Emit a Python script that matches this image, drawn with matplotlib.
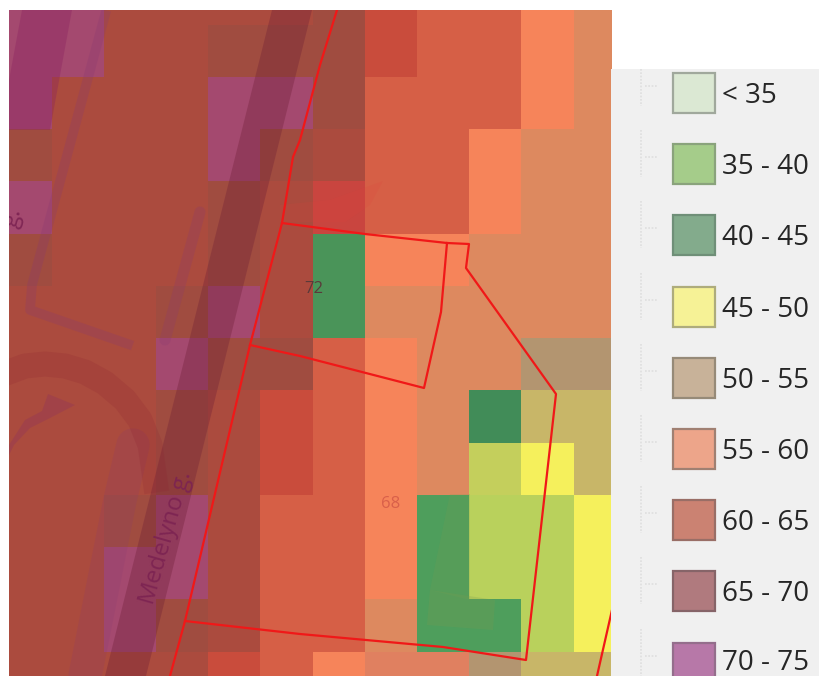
import numpy as np
import matplotlib
matplotlib.use("Agg")
import matplotlib.pyplot as plt
from matplotlib.colors import ListedColormap
from matplotlib.patches import Polygon, Rectangle

plt.rcParams["font.family"] = ["Open Sans", "DejaVu Sans"]

# Noise grid, one letter per cell
grid_rows = [
    "ppaaaabQrrot",
    "ppaabbbQrrot",
    "paaappbrrrot",
    "baaapbarrott",
    "paaabadrrott",
    "baaabahoottt",
    "aaabpahttttt",
    "aaapbbrottkk",
    "aaabaQrotGll",
    "aaabaQrotmyl",
    "aabparrogccy",
    "aappa" + "rrogccy",
    "aapba" + "rrtggcy",
    "aaaaQroeekll",
]
cell_colors = {
    "a": "#ab4b3e",
    "b": "#a04c40",
    "p": "#a4496f",
    "r": "#d65f46",
    "Q": "#c94c3c",
    "d": "#c9453f",
    "o": "#f6845a",
    "t": "#dd895f",
    "e": "#e08060",
    "k": "#b39570",
    "l": "#c8b668",
    "g": "#4e9e5c",
    "h": "#4a9459",
    "G": "#418c58",
    "c": "#b9d15c",
    "m": "#c4cf5c",
    "y": "#f5f05c",
}

# Legend
legend_labels = ["< 35", "35 - 40", "40 - 45", "45 - 50", "50 - 55", "55 - 60", "60 - 65", "65 - 70", "70 - 75"]
legend_fill = ["#dbe8d3", "#a5cc8a", "#83ab8c", "#f6f296", "#c8b299", "#eda58a", "#cb8272", "#b07a7e", "#b778a8"]
legend_edge = ["#a0a89c", "#8aa37c", "#6f8f78", "#aeac7c", "#968a78", "#a08072", "#996e66", "#866468", "#946e8c"]

# Map features, in picture coordinates
main_road = [(272, 10), (312, 10), (146, 676), (105, 676)]
left_road = [(22, 10), (72, 10), (50, 130), (9, 130), (9, 80)]
side_road_x = [105, 32, 30, 128]
side_road_y = [15, 285, 310, 344]
lane_x = [200, 165]
lane_y = [212, 340]
lower_lane_x = [133, 120, 85]
lower_lane_y = [445, 500, 676]
bend_x = [9, 25, 45, 65, 85, 105, 125, 140, 150, 155]
bend_y = [372, 366, 364, 366, 372, 383, 400, 420, 445, 480]
arrow_road = [(9, 445), (25, 420), (42, 411), (48, 394), (75, 405), (50, 418), (30, 428), (14, 445), (9, 455)]
roof_red = [(280, 205), (330, 200), (383, 181), (370, 205), (345, 222), (280, 222)]
roof_green_a = [(450, 494), (470, 494), (470, 600), (430, 590)]
roof_green_b = [(430, 590), (495, 600), (493, 630), (427, 625)]

boundary_x = [337, 320, 300, 293, 282, 250, 185, 170]
boundary_y = [10, 65, 140, 157, 223, 345, 621, 676]
parcel_x = [282, 365, 447, 469, 466, 556, 526, 443, 300, 185]
parcel_y = [223, 234, 243, 244, 268, 394, 660, 647, 634, 621]
inner_x = [447, 441, 424, 300, 250]
inner_y = [243, 312, 388, 356, 345]
corner_x = [612, 597]
corner_y = [610, 676]

fig = plt.figure(figsize=(8.19, 6.76), dpi=100, facecolor="white")

# Map
ax = fig.add_axes([9 / 819, 0, 603 / 819, 666 / 676])
letters = list(cell_colors)
values = np.array([[letters.index(c) for c in row] for row in grid_rows])
x_edges = np.clip(51.5 + 52.2 * np.arange(-1, 12), 9, 612)
y_edges = np.clip(24.5 + 52.25 * np.arange(-1, 14), 10, 676)
ax.pcolormesh(x_edges, y_edges, values, cmap=ListedColormap(list(cell_colors.values())),
              vmin=-0.5, vmax=len(letters) - 0.5)
ax.set_xlim(9, 612)
ax.set_ylim(676, 10)
ax.axis("off")

# Streets show through the noise layer
road = "#6f1f36"
ax.add_patch(Polygon(main_road, closed=True, fc=road, ec="none", alpha=0.35))
ax.add_patch(Polygon(left_road, closed=True, fc="#8a2060", ec="none", alpha=0.35))
ax.add_patch(Polygon(arrow_road, closed=True, fc="#8a3060", ec="none", alpha=0.3))
ax.add_patch(Polygon(roof_red, closed=True, fc="#e0403a", ec="none", alpha=0.15))
ax.add_patch(Polygon(roof_green_a, closed=True, fc="#7a9a50", ec="none", alpha=0.2))
ax.add_patch(Polygon(roof_green_b, closed=True, fc="#7a9a50", ec="none", alpha=0.25))
ax.plot(side_road_x, side_road_y, color="#8a3a70", lw=7, alpha=0.28, solid_joinstyle="round")
ax.plot(lane_x, lane_y, color="#8a3a70", lw=8, alpha=0.25, solid_capstyle="round")
ax.plot(lower_lane_x, lower_lane_y, color="#8a3a70", lw=24, alpha=0.2, solid_capstyle="round")
ax.plot(bend_x, bend_y, color="#8a2030", lw=18, alpha=0.18, solid_joinstyle="round")

# Parcels
for xs, ys in [(boundary_x, boundary_y), (parcel_x, parcel_y), (inner_x, inner_y), (corner_x, corner_y)]:
    ax.plot(xs, ys, color="#f01818", lw=1.6)

ax.text(314, 289, "72", fontsize=12, color="#5a3a3a", ha="center", va="center")
ax.text(391, 504, "68", fontsize=12, color="#d9604a", ha="center", va="center")
ax.text(166, 538, "Medelyno g.", fontsize=17.5, color="#7c2352", ha="center", va="center",
        rotation=74, rotation_mode="anchor", alpha=0.9)
ax.text(13, 217, "g.", fontsize=17.5, color="#7c2352", ha="center", va="center",
        rotation=74, rotation_mode="anchor", alpha=0.9, clip_on=True)

# Legend panel
lg = fig.add_axes([611 / 819, 0, 208 / 819, 607 / 676], facecolor="#f0f0f0")
lg.set_xlim(611, 819)
lg.set_ylim(676, 69)
lg.set_xticks([])
lg.set_yticks([])
for s in lg.spines.values():
    s.set_visible(False)

for i, label in enumerate(legend_labels):
    cy = 93 + 71.2 * i
    lg.plot([641, 641], [cy - 34, cy + 13], color="#dedede", lw=1.2, ls=(0, (1, 1)))
    lg.plot([645, 658], [cy - 7, cy - 7], color="#dedede", lw=1.2, ls=(0, (1, 1)))
    lg.add_patch(Rectangle((673, cy - 20), 42, 40, fc=legend_fill[i], ec=legend_edge[i], lw=1.6))
    lg.text(722, min(cy + 3, 662.5), label, fontsize=20, color="#262626", ha="left", va="center", clip_on=True)

fig.savefig("out.png", dpi=100)
